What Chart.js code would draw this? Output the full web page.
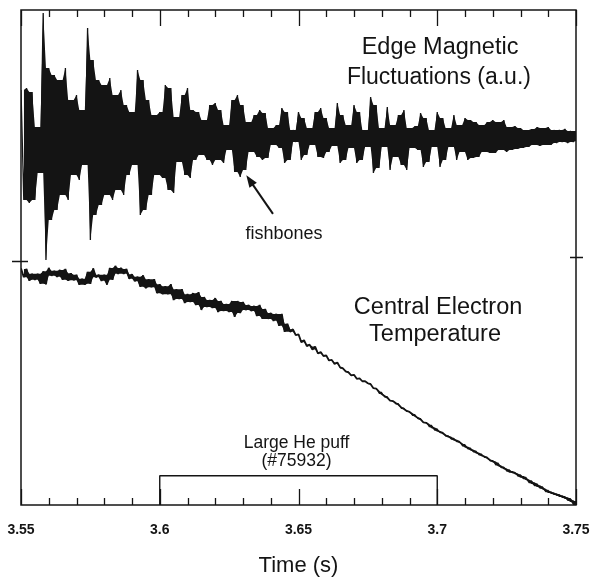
<!DOCTYPE html>
<html>
<head>
<meta charset="utf-8">
<script src="https://cdn.jsdelivr.net/npm/chart.js@4.4.1/dist/chart.umd.min.js"></script>
<style>
html, body { margin: 0; padding: 0; background: #fff; }
</style>
</head>
<body>
<canvas id="chart" width="611" height="581"></canvas>
<script>
'use strict';

// sample times (s), one every 2 ms
const times = [
	3.550, 3.552, 3.554, 3.556, 3.558, 3.560, 3.562, 3.564, 3.566, 3.568,
	3.570, 3.572, 3.574, 3.576, 3.578, 3.580, 3.582, 3.584, 3.586, 3.588,
	3.590, 3.592, 3.594, 3.596, 3.598, 3.600, 3.602, 3.604, 3.606, 3.608,
	3.610, 3.612, 3.614, 3.616, 3.618, 3.620, 3.622, 3.624, 3.626, 3.628,
	3.630, 3.632, 3.634, 3.636, 3.638, 3.640, 3.642, 3.644, 3.646, 3.648,
	3.650, 3.652, 3.654, 3.656, 3.658, 3.660, 3.662, 3.664, 3.666, 3.668,
	3.670, 3.672, 3.674, 3.676, 3.678, 3.680, 3.682, 3.684, 3.686, 3.688,
	3.690, 3.692, 3.694, 3.696, 3.698, 3.700, 3.702, 3.704, 3.706, 3.708,
	3.710, 3.712, 3.714, 3.716, 3.718, 3.720, 3.722, 3.724, 3.726, 3.728,
	3.730, 3.732, 3.734, 3.736, 3.738, 3.740, 3.742, 3.744, 3.746, 3.748,
	3.750
];

// edge magnetic fluctuations (a.u.): upper and lower swing in each 2 ms window
const fluctHi = [
	1.80, 1.88, 1.72, 0.32, 4.88, 2.68, 2.40, 2.20, 2.68, 1.40,
	1.60, 1.00, 4.28, 3.00, 2.20, 2.00, 2.28, 1.60, 1.80, 1.20,
	0.92, 2.60, 2.20, 1.40, 0.80, 0.92, 2.00, 1.88, 0.72, 1.60,
	1.88, 1.00, 0.92, 0.60, 1.20, 1.28, 1.00, 0.40, 1.40, 1.60,
	1.20, 0.52, 0.80, 1.00, 0.88, 0.28, 0.40, 1.08, 0.92, 0.20,
	0.92, 0.68, 0.28, 0.92, 1.08, 0.68, 0.28, 1.28, 0.80, 0.40,
	1.20, 0.92, 0.20, 1.52, 1.20, 0.28, 1.12, 0.40, 0.80, 1.00,
	0.28, 0.36, 0.88, 0.68, 0.20, 0.92, 0.68, 0.28, 0.80, 0.40,
	0.68, 0.60, 0.52, 0.40, 0.52, 0.60, 0.52, 0.60, 0.32, 0.36,
	0.28, 0.20, 0.24, 0.32, 0.28, 0.32, 0.20, 0.20, 0.24, 0.16,
	0.16
];
const fluctLo = [
	-2.60, -2.72, -2.60, -1.52, -5.00, -3.40, -3.00, -2.40, -2.60, -1.60,
	-1.80, -1.20, -4.20, -3.20, -2.80, -2.40, -2.60, -2.20, -2.40, -1.60,
	-1.20, -3.20, -3.00, -2.40, -1.60, -1.72, -2.20, -2.32, -1.08, -1.60,
	-1.72, -1.00, -0.80, -1.00, -1.20, -1.00, -1.12, -0.60, -1.48, -1.68,
	-1.40, -0.68, -0.88, -1.00, -0.92, -0.40, -0.52, -1.12, -1.00, -0.28,
	-1.00, -0.80, -0.40, -0.88, -0.92, -0.68, -0.44, -1.12, -1.00, -0.52,
	-1.12, -1.00, -0.48, -1.52, -1.32, -0.48, -1.40, -0.88, -1.20, -1.40,
	-0.52, -0.60, -1.28, -1.08, -0.48, -1.28, -1.00, -0.48, -1.00, -0.68,
	-1.00, -0.92, -0.88, -0.68, -0.72, -0.72, -0.60, -0.68, -0.60, -0.56,
	-0.52, -0.48, -0.40, -0.44, -0.40, -0.40, -0.32, -0.28, -0.32, -0.28,
	-0.24
];

// central electron temperature (a.u.) and half-width of its noise band
const teValues = [
	4.69, 4.65, 4.61, 4.57, 4.59, 4.71, 4.67, 4.65, 4.65, 4.61,
	4.55, 4.51, 4.59, 4.69, 4.59, 4.55, 4.67, 4.75, 4.73, 4.67,
	4.59, 4.51, 4.51, 4.48, 4.42, 4.36, 4.34, 4.30, 4.26, 4.22,
	4.18, 4.16, 4.12, 4.10, 4.06, 4.04, 4.02, 3.98, 3.96, 4.00,
	4.02, 3.98, 3.92, 3.90, 3.86, 3.80, 3.74, 3.68, 3.58, 3.49,
	3.37, 3.27, 3.19, 3.13, 3.05, 2.97, 2.89, 2.83, 2.73, 2.65,
	2.59, 2.53, 2.48, 2.40, 2.32, 2.22, 2.14, 2.08, 2.00, 1.92,
	1.86, 1.78, 1.70, 1.64, 1.56, 1.49, 1.43, 1.37, 1.31, 1.25,
	1.17, 1.11, 1.05, 0.99, 0.93, 0.87, 0.79, 0.73, 0.67, 0.63,
	0.57, 0.51, 0.44, 0.38, 0.32, 0.26, 0.22, 0.18, 0.14, 0.08,
	0.00
];
const teNoise = [
	0.09, 0.12, 0.06, 0.10, 0.13, 0.08, 0.06, 0.10, 0.12, 0.07,
	0.10, 0.06, 0.12, 0.09, 0.06, 0.10, 0.12, 0.08, 0.06, 0.10,
	0.07, 0.10, 0.13, 0.08, 0.14, 0.10, 0.08, 0.16, 0.10, 0.14,
	0.08, 0.12, 0.18, 0.10, 0.08, 0.14, 0.10, 0.08, 0.16, 0.12,
	0.08, 0.06, 0.10, 0.14, 0.10, 0.08, 0.12, 0.18, 0.08, 0.06,
	0.08, 0.06, 0.05, 0.07, 0.04, 0.05, 0.04, 0.05, 0.03, 0.03,
	0.04, 0.03, 0.02, 0.04, 0.03, 0.02, 0.03, 0.02, 0.03, 0.02,
	0.02, 0.02, 0.03, 0.02, 0.01, 0.01, 0.02, 0.01, 0.01, 0.02,
	0.01, 0.01, 0.01, 0.01, 0.02, 0.01, 0.01, 0.01, 0.00, 0.01,
	0.00, 0.01, 0.00, 0.00, 0.01, 0.00, 0.00, 0.00, 0.00, 0.00,
	0.00
];

// He puff window (s) and box height (temperature a.u.)
const puffStart = 3.60;
const puffEnd = 3.70;
const puffHeight = 0.59;

const majorTicks = [3.55, 3.6, 3.65, 3.7, 3.75];
const tickLabels = ['3.55', '3.6', '3.65', '3.7', '3.75'];
const minorTicks = [
	3.55, 3.56, 3.57, 3.58, 3.59, 3.6, 3.61, 3.62, 3.63, 3.64, 3.65,
	3.66, 3.67, 3.68, 3.69, 3.7, 3.71, 3.72, 3.73, 3.74, 3.75
];

const INK = '#141414';
const FONT = '"Liberation Sans", Arial, Helvetica, sans-serif';

// the trace swings from the upper to the lower value inside each window
function swing(hi, lo) {
	let pts = [];
	for (let i = 0; i < times.length; i++) {
		pts.push({ x: times[i], y: hi[i] });
		pts.push({ x: times[i] + 0.001, y: lo[i] });
	}
	return pts;
}

// edge of the solid inked band: each swing peak, with the lesser of two
// neighbouring peaks in between (where the trace crosses back)
function edge(vals, pick, shift) {
	let pts = [];
	for (let i = 0; i < times.length; i++) {
		pts.push({ x: times[i] + shift, y: vals[i] });
		if (i + 1 < times.length) {
			pts.push({ x: times[i] + shift + 0.001, y: pick(vals[i], vals[i + 1]) });
		}
	}
	return pts;
}

const teHi = teValues.map((v, i) => v + teNoise[i]);
const teLo = teValues.map((v, i) => v - teNoise[i]);

const puffData = [
	{ x: puffStart, y: 0 },
	{ x: puffStart, y: puffHeight },
	{ x: puffEnd, y: puffHeight },
	{ x: puffEnd, y: 0 }
];

// texts and arrow, placed in data coordinates (x: s, y: temperature axis)
const labels = [
	{ text: 'Edge Magnetic', t: 3.7010, v: 9.25, size: 23.5 },
	{ text: 'Fluctuations (a.u.)', t: 3.7006, v: 8.64, size: 23 },
	{ text: 'Central Electron', t: 3.7003, v: 3.98, size: 23.5 },
	{ text: 'Temperature', t: 3.6992, v: 3.44, size: 23.5 },
	{ text: 'fishbones', t: 3.6448, v: 5.47, size: 18 },
	{ text: 'Large He puff', t: 3.6493, v: 1.24, size: 17.5 },
	{ text: '(#75932)', t: 3.6493, v: 0.89, size: 17.5 }
];
const arrow = { from: [3.6408, 5.88], to: [3.6312, 6.66] };

const decor = {
	id: 'decor',
	afterDatasetsDraw(chart) {
		const { ctx, chartArea: a, scales } = chart;
		const x = scales.x;
		const te = scales.te;

		ctx.save();
		ctx.strokeStyle = INK;
		ctx.fillStyle = INK;

		// frame
		ctx.lineWidth = 1.5;
		ctx.strokeRect(a.left, a.top, a.right - a.left, a.bottom - a.top);

		// inward ticks on top and bottom
		ctx.lineWidth = 1.3;
		ctx.beginPath();
		minorTicks.forEach((v) => {
			const px = Math.round(x.getPixelForValue(v)) + 0.5;
			const len = majorTicks.includes(v) ? 16 : 7;
			ctx.moveTo(px, a.bottom);
			ctx.lineTo(px, a.bottom - len);
			ctx.moveTo(px, a.top);
			ctx.lineTo(px, a.top + len);
		});

		// panel split marks
		const mid = te.getPixelForValue(5);
		ctx.moveTo(a.left - 9, mid + 4);
		ctx.lineTo(a.left + 7, mid + 4);
		ctx.moveTo(a.right - 6, mid);
		ctx.lineTo(a.right + 7, mid);
		ctx.stroke();

		// arrow to the fishbones
		const x0 = x.getPixelForValue(arrow.from[0]);
		const y0 = te.getPixelForValue(arrow.from[1]);
		const x1 = x.getPixelForValue(arrow.to[0]);
		const y1 = te.getPixelForValue(arrow.to[1]);
		const ang = Math.atan2(y1 - y0, x1 - x0);
		ctx.lineWidth = 2;
		ctx.beginPath();
		ctx.moveTo(x0, y0);
		ctx.lineTo(x1 - 8 * Math.cos(ang), y1 - 8 * Math.sin(ang));
		ctx.stroke();
		ctx.beginPath();
		ctx.moveTo(x1, y1);
		ctx.lineTo(x1 - 12 * Math.cos(ang) + 4.5 * Math.sin(ang), y1 - 12 * Math.sin(ang) - 4.5 * Math.cos(ang));
		ctx.lineTo(x1 - 12 * Math.cos(ang) - 4.5 * Math.sin(ang), y1 - 12 * Math.sin(ang) + 4.5 * Math.cos(ang));
		ctx.closePath();
		ctx.fill();

		// texts
		ctx.textAlign = 'center';
		ctx.textBaseline = 'middle';
		labels.forEach((l) => {
			ctx.font = `${l.size}px ${FONT}`;
			ctx.fillText(l.text, x.getPixelForValue(l.t), te.getPixelForValue(l.v));
		});

		ctx.restore();
	}
};

function band(label, data, axis, fill) {
	return {
		label: label,
		data: data,
		yAxisID: axis,
		borderColor: INK,
		backgroundColor: INK,
		borderWidth: 0,
		fill: fill,
		pointRadius: 0,
		tension: 0
	};
}

function trace(label, data, axis, width) {
	return {
		label: label,
		data: data,
		yAxisID: axis,
		borderColor: INK,
		borderWidth: width,
		borderJoinStyle: 'bevel',
		fill: false,
		pointRadius: 0,
		tension: 0
	};
}

let ctx = document.getElementById('chart');
let chart = new Chart(ctx, {
	type: 'line',
	data: {
		datasets: [
			band('fluct band upper', edge(fluctHi, Math.min, 0), 'fl', '+1'),
			band('fluct band lower', edge(fluctLo, Math.max, 0.001), 'fl', false),
			trace('Edge Magnetic Fluctuations', swing(fluctHi, fluctLo), 'fl', 1.3),
			band('Te band upper', edge(teHi, Math.min, 0), 'te', '+1'),
			band('Te band lower', edge(teLo, Math.max, 0.001), 'te', false),
			trace('Central Electron Temperature', swing(teHi, teLo), 'te', 1.8),
			trace('Large He puff', puffData, 'te', 1.4)
		]
	},
	options: {
		responsive: false,
		animation: false,
		layout: { padding: { left: 21, right: 35, top: 10, bottom: 0 } },
		plugins: {
			legend: { display: false },
			tooltip: { enabled: false }
		},
		scales: {
			x: {
				type: 'linear',
				min: 3.55,
				max: 3.75,
				afterBuildTicks: (s) => { s.ticks = majorTicks.map((v) => ({ value: v })); },
				afterFit: (s) => {
					s.height = 76;
					s.paddingLeft = 0;
					s.paddingRight = 0;
				},
				grid: { display: false, drawTicks: false },
				border: { display: false },
				ticks: {
					autoSkip: false,
					maxRotation: 0,
					padding: 17,
					color: INK,
					font: { family: FONT, size: 14, weight: 'bold' },
					callback: (v, i) => tickLabels[i]
				},
				title: {
					display: true,
					text: 'Time (s)',
					color: INK,
					font: { family: FONT, size: 22 },
					padding: { top: 0, bottom: 2 }
				}
			},
			te: {
				type: 'linear',
				position: 'left',
				display: false,
				min: 0,
				max: 10
			},
			fl: {
				type: 'linear',
				position: 'left',
				display: false,
				min: -14.8,
				max: 5
			}
		}
	},
	plugins: [decor]
});
</script>
</body>
</html>
